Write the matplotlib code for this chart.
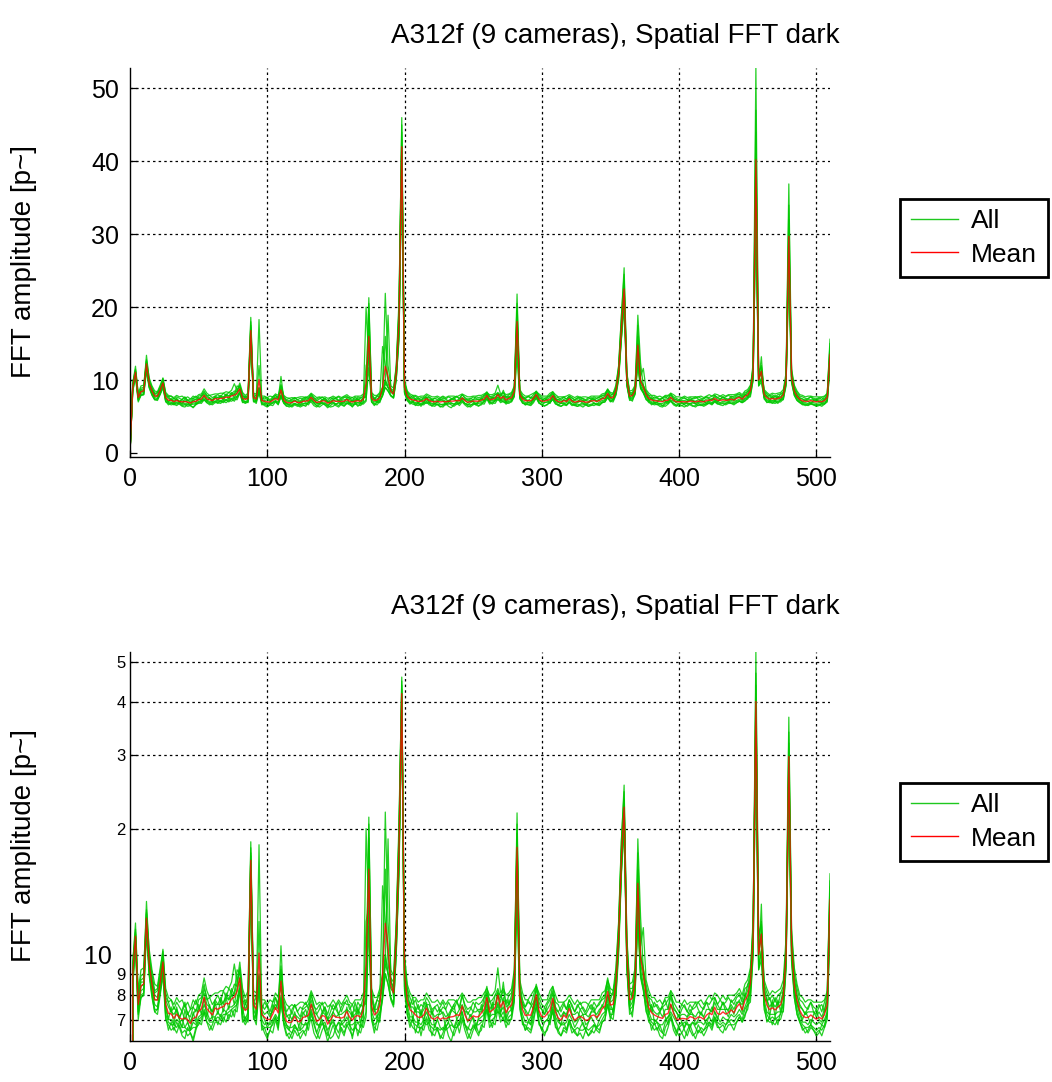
import numpy as np
import matplotlib
matplotlib.use('Agg')
import matplotlib.pyplot as plt
from matplotlib.lines import Line2D
from matplotlib.ticker import NullLocator

plt.rcParams['font.family'] = ['Liberation Sans', 'DejaVu Sans']

TITLE = 'A312f (9 cameras), Spatial FFT dark'
YLABEL = 'FFT amplitude [p~]'

# spatial frequency bins (every second bin of 0..511)
freq_bins = np.arange(0, 512, 2)

# FFT amplitude per camera
cam_1 = [
    0, 9.5, 11.9, 8.0, 8.9, 9.0, 13.4, 10.0, 9.0, 8.2, 8.3, 9.1, 10.3, 8.1, 7.7, 7.8,
    7.4, 7.7, 7.5, 7.3, 7.6, 7.2, 7.4, 7.5, 7.3, 7.8, 7.9, 8.5, 7.8, 7.9, 7.6, 7.8,
    8.0, 7.7, 8.2, 7.9, 8.3, 8.1, 8.5, 8.4, 9.3, 8.1, 7.6, 8.0, 18.6, 8.0, 7.9, 8.9,
    7.6, 7.4, 7.6, 7.3, 7.7, 7.9, 7.5, 9.2, 7.8, 7.3, 7.5, 7.2, 7.6, 7.3, 7.5, 7.4,
    7.5, 7.6, 8.1, 7.5, 7.4, 7.6, 7.3, 7.5, 7.2, 7.6, 7.4, 7.5, 7.7, 7.3, 7.6, 7.8,
    7.4, 7.6, 7.3, 7.7, 7.5, 7.9, 8.0, 21.3, 8.2, 7.5, 7.8, 8.1, 8.5, 10.0, 9.0, 8.8,
    8.6, 11.8, 20.0, 46.0, 9.8, 8.3, 7.9, 7.6, 7.8, 7.4, 7.6, 7.5, 7.9, 7.7, 7.4, 7.5,
    7.6, 7.3, 7.5, 7.4, 7.7, 7.5, 7.4, 7.7, 7.5, 8.0, 7.6, 7.4, 7.5, 7.3, 7.7, 7.6,
    7.7, 7.9, 8.4, 7.7, 7.8, 8.0, 8.3, 7.9, 8.2, 7.6, 8.0, 8.1, 9.0, 21.8, 8.5, 7.8,
    7.5, 7.7, 7.6, 8.0, 8.5, 7.9, 7.6, 7.5, 7.7, 7.9, 8.4, 7.7, 7.6, 7.3, 7.6, 7.4,
    7.8, 7.6, 7.3, 7.6, 7.4, 7.5, 7.3, 7.6, 7.4, 7.7, 7.5, 7.6, 7.9, 8.0, 8.8, 8.1,
    8.0, 9.0, 11.8, 18.5, 25.4, 10.8, 8.3, 8.3, 9.1, 16.0, 10.0, 9.3, 8.5, 7.9, 7.8, 7.5,
    7.6, 7.4, 7.5, 7.6, 7.8, 8.0, 7.7, 7.5, 7.3, 7.6, 7.5, 7.3, 7.6, 7.4, 7.5, 7.7,
    7.5, 7.4, 7.7, 7.6, 7.8, 7.9, 7.6, 7.8, 7.6, 7.7, 7.9, 7.7, 7.8, 8.0, 8.1, 7.8,
    8.3, 8.4, 9.1, 11.5, 52.9, 11.0, 12.0, 8.5, 8.1, 7.8, 8.0, 7.7, 8.0, 8.1, 8.4, 10.5,
    34.0, 11.2, 9.0, 8.3, 7.8, 7.7, 7.5, 7.4, 7.7, 7.5, 7.4, 7.6, 7.3, 7.7, 8.1, 15.0,
]
cam_2 = [
    0, 8.5, 10.4, 7.0, 7.9, 8.0, 11.2, 8.9, 7.9, 7.3, 7.2, 8.0, 8.9, 7.0, 6.8, 6.6,
    6.7, 6.5, 6.8, 6.5, 6.6, 6.4, 6.5, 6.3, 6.7, 6.8, 7.0, 7.3, 6.9, 6.8, 6.6, 6.9,
    6.9, 6.8, 7.1, 6.9, 7.2, 7.1, 7.4, 7.3, 8.2, 7.0, 6.8, 7.0, 15.6, 7.1, 6.8, 8.3,
    6.6, 6.7, 6.4, 6.6, 6.5, 7.0, 6.6, 7.9, 6.8, 6.4, 6.5, 6.3, 6.6, 6.4, 6.5, 6.6,
    6.4, 6.9, 7.0, 6.5, 6.3, 6.6, 6.9, 6.6, 6.2, 6.5, 6.8, 6.5, 6.3, 6.7, 6.5, 6.8,
    6.6, 6.4, 6.7, 6.6, 6.5, 6.9, 7.3, 11.7, 7.0, 6.7, 6.6, 7.1, 7.8, 9.0, 8.5, 7.8,
    7.5, 10.0, 16.0, 38.0, 8.2, 7.2, 6.9, 6.7, 6.6, 6.5, 6.7, 6.6, 7.0, 6.6, 6.5, 6.4,
    6.7, 6.3, 6.5, 6.8, 6.4, 6.2, 6.6, 6.9, 6.5, 7.0, 6.6, 6.3, 6.5, 6.8, 6.6, 6.4,
    6.8, 6.7, 7.4, 6.7, 6.9, 6.8, 7.4, 6.9, 7.1, 6.7, 7.0, 7.0, 7.7, 15.0, 7.4, 6.9,
    6.6, 6.7, 6.6, 7.1, 7.5, 6.8, 6.7, 6.5, 6.6, 7.0, 7.3, 6.7, 6.6, 6.4, 6.6, 6.5,
    6.9, 6.5, 6.6, 6.4, 6.5, 6.3, 6.6, 6.4, 6.6, 6.5, 6.7, 6.6, 6.9, 7.0, 7.6, 7.1,
    7.0, 7.9, 10.0, 15.5, 20.0, 9.2, 7.2, 7.3, 8.0, 12.5, 8.8, 8.2, 7.4, 6.9, 6.8, 6.6,
    6.7, 6.4, 6.3, 6.7, 6.9, 7.1, 6.6, 6.4, 6.7, 6.5, 6.3, 6.6, 6.8, 6.5, 6.3, 6.6,
    6.5, 6.6, 6.7, 6.8, 6.6, 7.0, 6.7, 6.7, 6.8, 6.6, 6.8, 6.8, 6.8, 6.9, 7.1, 6.9,
    7.2, 7.4, 8.0, 10.0, 33.0, 9.2, 10.2, 7.4, 7.0, 6.9, 6.9, 6.8, 7.0, 7.0, 7.4, 9.2,
    26.0, 9.6, 7.9, 7.2, 6.9, 6.6, 6.7, 6.5, 6.7, 6.6, 6.5, 6.6, 6.4, 6.7, 7.0, 12.0,
]
cam_3 = [
    0, 9.2, 11.2, 7.8, 8.6, 8.6, 12.5, 9.7, 8.7, 8.0, 7.9, 8.8, 9.8, 7.8, 7.5, 7.3,
    7.2, 7.4, 7.1, 7.3, 7.0, 7.3, 6.9, 7.2, 7.4, 7.3, 7.8, 8.1, 7.6, 7.5, 7.3, 7.6,
    7.6, 7.6, 7.7, 7.9, 7.8, 8.0, 8.1, 9.2, 9.0, 7.8, 7.4, 7.7, 17.5, 7.7, 7.6, 18.3,
    7.4, 7.2, 7.3, 7.1, 7.4, 7.6, 7.4, 10.5, 7.5, 7.1, 7.2, 7.0, 7.2, 7.1, 7.0, 7.3,
    7.1, 7.4, 7.8, 7.3, 7.2, 7.0, 7.3, 7.2, 7.0, 7.1, 7.3, 7.1, 7.2, 7.2, 7.3, 7.4,
    7.3, 7.1, 7.2, 7.4, 7.2, 7.5, 7.8, 17.0, 7.9, 7.4, 7.4, 7.8, 14.6, 12.0, 10.0, 8.6,
    8.3, 11.3, 19.0, 44.0, 9.3, 8.0, 7.5, 7.5, 7.3, 7.3, 7.2, 7.4, 7.6, 7.3, 7.3, 7.1,
    7.2, 7.2, 7.3, 7.1, 7.2, 7.4, 7.3, 7.2, 7.4, 7.6, 7.3, 7.3, 7.1, 7.3, 7.3, 7.4,
    7.4, 7.6, 8.2, 7.4, 7.6, 7.6, 8.1, 7.7, 8.6, 7.5, 7.6, 7.8, 8.6, 19.5, 8.2, 7.5,
    7.4, 7.2, 7.5, 7.7, 8.3, 7.5, 7.4, 7.2, 7.4, 7.6, 8.1, 7.4, 7.3, 7.1, 7.3, 7.2,
    7.6, 7.2, 7.2, 7.3, 7.1, 7.2, 7.2, 7.1, 7.3, 7.3, 7.2, 7.4, 7.5, 7.8, 8.4, 7.7,
    7.8, 8.7, 11.3, 17.5, 23.0, 10.3, 8.0, 8.1, 8.8, 18.9, 12.3, 9.2, 8.2, 7.6, 7.5, 7.3,
    7.2, 7.3, 7.1, 7.4, 7.4, 8.2, 7.4, 7.3, 7.1, 7.2, 7.2, 7.1, 7.2, 7.2, 7.1, 7.3,
    7.2, 7.1, 7.4, 7.4, 7.3, 7.7, 7.4, 7.4, 7.4, 7.4, 7.4, 7.6, 7.4, 7.7, 7.7, 7.6,
    7.9, 8.2, 8.8, 11.0, 44.0, 10.3, 11.2, 8.2, 7.8, 7.5, 7.7, 7.5, 7.7, 7.7, 8.2, 10.2,
    30.0, 10.7, 8.7, 8.0, 7.5, 7.4, 7.2, 7.3, 7.3, 7.3, 7.1, 7.3, 7.1, 7.4, 7.8, 14.0,
]
cam_4 = [
    0, 8.8, 10.8, 7.4, 8.2, 8.3, 11.8, 9.2, 8.2, 7.6, 7.5, 8.3, 9.3, 7.4, 7.0, 7.0,
    6.8, 7.0, 6.9, 7.0, 6.7, 6.9, 6.6, 6.9, 6.8, 7.1, 7.2, 7.6, 7.3, 7.0, 7.1, 7.1,
    7.3, 7.1, 7.4, 7.3, 7.5, 7.5, 7.6, 7.8, 8.5, 7.4, 7.0, 7.3, 16.0, 7.4, 7.1, 8.5,
    7.0, 6.8, 6.9, 6.8, 7.0, 7.2, 7.0, 8.0, 7.1, 6.8, 6.7, 6.7, 6.8, 6.6, 6.9, 6.8,
    6.8, 6.9, 7.4, 7.0, 6.8, 6.8, 6.8, 6.9, 6.6, 6.8, 6.9, 6.7, 6.9, 6.8, 6.9, 7.1,
    6.8, 6.8, 6.9, 6.9, 6.9, 7.2, 20.0, 12.5, 7.3, 7.0, 7.1, 7.3, 8.0, 9.5, 18.9, 8.9,
    7.9, 10.6, 17.0, 40.0, 8.7, 7.6, 7.1, 7.1, 6.9, 6.9, 6.8, 7.0, 7.3, 7.0, 6.8, 6.8,
    7.0, 6.7, 6.6, 6.9, 7.1, 6.9, 6.7, 7.0, 7.2, 7.3, 6.8, 6.6, 6.9, 7.1, 6.8, 7.0,
    7.1, 7.2, 7.7, 7.1, 7.2, 7.2, 7.7, 7.3, 7.5, 7.0, 7.3, 7.4, 8.1, 17.0, 7.8, 7.2,
    6.9, 6.9, 7.1, 7.3, 7.9, 7.2, 6.9, 6.9, 7.0, 7.2, 7.7, 7.1, 6.9, 6.8, 6.8, 6.9,
    7.2, 7.0, 6.7, 6.9, 7.1, 6.8, 6.6, 6.9, 7.1, 6.9, 6.7, 7.0, 7.2, 7.3, 8.0, 7.4,
    7.4, 8.2, 10.5, 16.3, 21.0, 9.6, 7.5, 7.7, 8.3, 14.0, 9.2, 8.5, 7.8, 7.3, 7.0, 7.0,
    6.9, 6.8, 6.8, 7.0, 7.1, 7.3, 7.1, 6.9, 6.7, 6.8, 6.9, 6.8, 6.8, 6.9, 6.8, 6.9,
    6.9, 6.8, 7.0, 7.1, 6.9, 7.3, 7.1, 6.9, 7.1, 7.0, 7.0, 7.2, 7.1, 7.2, 7.4, 7.2,
    7.5, 7.8, 8.3, 12.5, 37.0, 9.6, 13.2, 7.8, 7.3, 7.2, 7.2, 7.2, 7.3, 7.3, 7.7, 9.6,
    28.0, 10.1, 8.2, 7.6, 7.2, 6.9, 6.9, 6.8, 7.0, 6.9, 6.8, 6.9, 6.8, 7.0, 7.3, 13.0,
]
cam_5 = [
    0, 9.6, 11.5, 8.2, 9.2, 9.3, 12.8, 10.3, 9.2, 8.5, 8.4, 9.3, 10.2, 8.3, 7.9, 7.8,
    7.6, 7.9, 7.7, 7.8, 7.5, 7.7, 7.4, 7.8, 7.6, 8.0, 8.1, 8.8, 8.2, 7.9, 8.0, 8.1,
    8.1, 8.2, 8.2, 8.4, 8.3, 8.6, 9.5, 8.6, 9.6, 8.3, 7.9, 8.2, 18.0, 8.2, 8.1, 9.0,
    7.8, 7.8, 7.6, 7.8, 7.7, 8.1, 7.9, 9.4, 7.9, 7.6, 7.5, 7.6, 7.5, 7.6, 7.7, 7.7,
    7.6, 7.8, 8.2, 7.9, 7.6, 7.7, 7.6, 7.7, 7.5, 7.6, 7.8, 7.6, 7.8, 7.6, 7.8, 8.0,
    7.7, 7.6, 7.8, 7.8, 7.8, 8.1, 8.2, 20.5, 8.3, 7.9, 7.9, 8.3, 9.0, 21.9, 12.0, 9.2,
    8.9, 12.0, 21.0, 45.0, 10.0, 8.5, 8.1, 7.9, 7.9, 7.7, 7.8, 7.8, 8.1, 7.9, 7.7, 7.7,
    7.8, 7.6, 7.8, 7.6, 7.8, 7.8, 7.8, 7.7, 7.9, 8.1, 7.9, 7.7, 7.7, 7.8, 7.8, 7.9,
    7.9, 8.1, 8.3, 8.0, 8.0, 8.2, 9.3, 8.1, 8.3, 8.0, 8.1, 8.3, 9.2, 20.5, 8.7, 8.1,
    7.8, 7.8, 8.0, 8.2, 8.4, 8.1, 7.8, 7.8, 7.8, 8.2, 8.4, 8.0, 7.7, 7.7, 7.7, 7.8,
    8.0, 7.8, 7.6, 7.8, 7.6, 7.7, 7.7, 7.6, 7.8, 7.8, 7.8, 7.8, 8.1, 8.2, 8.7, 8.3,
    8.2, 9.3, 12.0, 18.8, 24.5, 11.0, 8.5, 8.6, 9.3, 17.5, 10.5, 11.6, 8.7, 8.2, 7.9, 7.9,
    7.7, 7.8, 7.6, 7.9, 7.9, 8.2, 8.0, 7.7, 7.7, 7.6, 7.8, 7.6, 7.7, 7.7, 7.7, 7.7,
    7.8, 7.6, 7.8, 8.0, 7.8, 8.1, 8.0, 7.8, 8.0, 7.8, 8.0, 8.0, 8.0, 8.1, 8.3, 8.0,
    8.5, 8.7, 9.3, 11.8, 47.0, 11.0, 11.8, 8.7, 8.3, 8.0, 8.2, 8.1, 8.2, 8.3, 8.7, 11.0,
    36.9, 11.5, 9.3, 8.5, 8.0, 7.9, 7.7, 7.8, 7.8, 7.7, 7.7, 7.7, 7.7, 7.8, 8.2, 15.6,
]
cam_6 = [
    0, 8.4, 10.6, 7.2, 8.0, 8.1, 11.5, 9.0, 8.1, 7.4, 7.4, 8.2, 9.1, 7.2, 6.9, 6.8,
    6.8, 6.7, 6.9, 6.7, 6.7, 6.6, 6.6, 6.7, 6.7, 7.0, 7.1, 7.4, 7.1, 6.9, 6.9, 7.0,
    7.1, 7.0, 7.2, 7.2, 7.3, 7.4, 7.5, 7.6, 8.3, 7.2, 6.9, 7.1, 15.8, 7.2, 7.0, 12.0,
    6.8, 6.7, 6.7, 6.7, 6.8, 7.1, 6.8, 7.8, 6.9, 6.7, 6.6, 6.5, 6.7, 6.6, 6.6, 6.7,
    6.9, 6.6, 7.2, 6.9, 6.5, 6.8, 7.0, 6.6, 6.4, 6.8, 7.0, 6.7, 6.5, 6.9, 6.7, 6.9,
    6.8, 6.6, 6.7, 6.9, 6.7, 7.0, 12.0, 13.0, 7.1, 6.8, 6.9, 7.2, 7.9, 9.0, 8.5, 7.9,
    7.6, 10.2, 16.5, 39.0, 8.4, 7.4, 7.0, 6.9, 6.8, 6.7, 6.7, 6.8, 7.1, 6.8, 6.7, 6.6,
    6.7, 6.6, 6.7, 6.6, 6.7, 6.8, 6.7, 6.7, 6.8, 7.1, 6.8, 6.7, 6.6, 6.7, 6.8, 6.8,
    6.9, 7.0, 7.6, 6.9, 7.0, 7.1, 7.6, 7.1, 7.3, 6.9, 7.1, 7.2, 7.8, 18.0, 7.6, 7.0,
    6.6, 6.9, 6.8, 7.3, 7.7, 6.9, 6.6, 6.9, 7.0, 6.8, 7.5, 7.0, 6.6, 6.8, 6.9, 6.6,
    7.0, 6.7, 6.6, 6.7, 6.6, 6.6, 6.7, 6.6, 6.7, 6.8, 6.7, 6.8, 7.0, 7.2, 7.8, 7.2,
    7.2, 8.0, 10.3, 15.8, 20.5, 9.4, 7.4, 7.5, 8.2, 11.8, 8.9, 8.3, 7.6, 7.1, 6.9, 6.8,
    6.9, 6.6, 6.5, 6.9, 7.1, 7.2, 6.8, 6.5, 6.8, 6.9, 6.6, 6.4, 6.7, 6.9, 6.7, 6.5,
    6.7, 6.6, 6.8, 6.9, 6.8, 7.1, 6.9, 6.8, 6.9, 6.8, 6.9, 7.0, 6.9, 7.1, 7.2, 7.0,
    7.4, 7.6, 8.2, 10.2, 33.0, 9.3, 10.3, 7.6, 7.2, 7.0, 7.1, 7.0, 7.1, 7.2, 7.6, 9.4,
    24.5, 9.7, 8.1, 7.4, 7.0, 6.8, 6.7, 6.7, 6.8, 6.7, 6.6, 6.7, 6.6, 6.8, 7.2, 11.5,
]
cam_7 = [
    0, 9.0, 11.0, 7.6, 8.4, 8.5, 12.2, 9.5, 8.5, 7.8, 7.8, 8.6, 9.6, 7.6, 7.0, 7.5,
    6.8, 7.5, 7.0, 6.7, 7.4, 6.9, 6.6, 7.3, 6.9, 7.6, 7.2, 7.9, 7.1, 7.6, 7.0, 7.7,
    7.2, 7.8, 7.3, 7.9, 7.4, 8.1, 7.6, 8.3, 8.8, 7.2, 7.7, 7.3, 16.5, 7.9, 7.1, 8.6,
    7.3, 7.0, 6.7, 6.9, 7.6, 7.4, 7.8, 8.4, 7.1, 6.8, 6.6, 7.0, 7.3, 6.9, 6.6, 7.2,
    7.4, 7.0, 7.6, 7.3, 6.9, 6.7, 7.2, 7.5, 7.0, 6.8, 7.3, 7.6, 7.2, 6.9, 7.0, 7.5,
    6.8, 7.3, 6.9, 7.5, 6.8, 7.7, 7.6, 15.0, 7.3, 7.5, 7.0, 7.8, 8.3, 9.5, 9.0, 8.3,
    8.1, 11.0, 18.0, 42.0, 9.0, 7.5, 7.7, 7.0, 7.5, 6.8, 7.4, 6.9, 7.7, 6.9, 7.4, 6.7,
    7.0, 7.4, 7.2, 6.7, 6.9, 7.4, 7.6, 7.0, 6.8, 7.5, 7.3, 6.9, 7.2, 7.0, 6.6, 7.1,
    7.6, 7.1, 8.0, 7.0, 7.7, 7.2, 8.2, 7.2, 7.9, 7.0, 7.8, 7.3, 8.4, 18.5, 7.7, 7.7,
    7.3, 7.0, 6.8, 7.6, 7.9, 7.2, 7.0, 7.5, 7.3, 6.9, 7.8, 7.4, 7.0, 6.8, 7.3, 7.1,
    7.6, 7.2, 6.9, 7.0, 7.4, 7.2, 6.8, 6.9, 7.3, 7.5, 7.0, 7.3, 7.6, 7.4, 8.0, 7.6,
    7.3, 8.5, 11.0, 17.0, 22.5, 10.0, 7.5, 8.2, 8.3, 14.5, 9.5, 8.8, 8.3, 7.2, 7.6, 6.9,
    7.0, 7.3, 7.5, 7.1, 6.8, 7.6, 7.3, 7.0, 7.2, 6.9, 6.7, 7.1, 7.4, 7.2, 6.8, 7.0,
    7.3, 7.1, 6.8, 7.2, 7.5, 7.3, 7.0, 7.4, 7.7, 7.3, 7.1, 7.5, 7.2, 7.6, 7.8, 7.3,
    8.1, 7.7, 8.9, 10.8, 39.0, 10.0, 11.0, 7.7, 7.9, 7.1, 7.8, 7.1, 7.8, 7.3, 8.3, 10.0,
    29.0, 10.5, 8.2, 7.7, 7.3, 7.0, 7.3, 7.1, 6.8, 7.2, 7.4, 7.0, 6.9, 7.3, 7.5, 13.5,
]
cam_8 = [
    0, 9.3, 11.3, 7.9, 8.7, 8.8, 12.6, 9.8, 8.8, 8.1, 8.2, 8.9, 10.0, 7.9, 7.7, 7.3,
    7.5, 7.3, 7.0, 7.4, 7.7, 7.2, 7.1, 7.5, 7.8, 7.4, 7.7, 8.3, 7.9, 7.5, 7.3, 7.8,
    7.6, 7.9, 7.6, 8.1, 7.8, 8.3, 8.0, 8.6, 9.2, 7.7, 7.8, 7.6, 17.2, 7.7, 7.9, 8.8,
    7.4, 7.7, 7.5, 7.2, 7.3, 7.9, 7.6, 8.9, 7.6, 7.2, 7.0, 7.4, 7.6, 7.3, 7.1, 7.5,
    7.7, 7.4, 8.0, 7.6, 7.2, 7.4, 7.7, 7.3, 7.0, 7.3, 7.6, 7.4, 7.2, 7.5, 7.7, 7.6,
    7.6, 7.1, 7.7, 7.2, 7.6, 7.5, 7.9, 19.0, 7.9, 7.3, 7.8, 7.7, 8.6, 16.0, 9.5, 8.6,
    8.4, 11.5, 19.5, 43.0, 9.5, 8.3, 7.5, 7.9, 7.3, 7.6, 7.1, 7.7, 7.6, 7.6, 7.2, 7.5,
    7.3, 7.5, 7.7, 7.4, 7.1, 7.3, 7.6, 7.8, 7.4, 8.0, 7.5, 7.2, 7.4, 7.7, 7.5, 7.3,
    7.3, 7.9, 8.1, 7.8, 7.4, 8.0, 8.1, 8.0, 7.7, 7.8, 7.6, 8.0, 8.8, 19.0, 8.4, 7.6,
    7.5, 7.8, 7.6, 7.4, 8.4, 7.7, 7.4, 7.2, 7.6, 7.8, 8.2, 7.5, 7.3, 7.5, 7.7, 7.4,
    7.8, 7.5, 7.3, 7.5, 7.7, 7.4, 7.2, 7.4, 7.6, 7.3, 7.5, 7.7, 7.8, 7.9, 8.6, 7.8,
    8.2, 8.8, 11.5, 17.8, 23.5, 10.5, 8.3, 7.9, 9.1, 15.0, 10.0, 9.2, 8.1, 7.9, 7.3, 7.7,
    7.5, 7.3, 7.6, 7.8, 7.4, 7.9, 7.5, 7.3, 7.1, 7.4, 7.6, 7.3, 7.2, 7.5, 7.7, 7.4,
    7.2, 7.5, 7.7, 7.4, 7.3, 7.9, 7.6, 7.4, 7.7, 7.5, 7.3, 7.8, 7.6, 7.9, 8.0, 7.7,
    7.9, 8.5, 8.6, 11.2, 41.0, 10.4, 11.4, 8.5, 7.7, 7.9, 7.5, 7.9, 7.5, 8.1, 8.1, 10.4,
    32.0, 11.0, 8.8, 8.0, 7.6, 7.4, 7.2, 7.5, 7.7, 7.3, 7.2, 7.5, 7.6, 7.3, 8.1, 14.5,
]
cam_9 = [
    0, 8.7, 10.9, 7.3, 7.9, 8.0, 12.0, 9.1, 8.0, 7.3, 7.4, 8.1, 9.2, 7.1, 6.6, 6.9,
    6.6, 6.9, 6.7, 6.4, 6.3, 6.7, 6.5, 6.2, 6.6, 6.9, 6.8, 7.3, 6.9, 6.6, 6.8, 7.1,
    6.8, 7.2, 6.9, 7.3, 7.0, 7.4, 7.1, 7.7, 8.3, 6.9, 7.1, 6.9, 16.0, 7.0, 7.2, 8.4,
    6.8, 6.5, 6.3, 6.6, 6.9, 7.1, 6.7, 7.7, 6.9, 6.5, 6.3, 6.5, 6.8, 6.6, 6.3, 6.5,
    6.6, 6.9, 7.3, 6.8, 6.5, 6.3, 6.6, 6.8, 6.5, 6.3, 6.4, 6.7, 6.9, 6.6, 6.4, 6.8,
    6.8, 6.3, 6.9, 6.4, 6.8, 6.7, 7.1, 14.0, 7.0, 6.5, 7.0, 6.9, 8.0, 10.0, 9.0, 7.9,
    7.6, 10.3, 15.5, 41.0, 8.3, 7.2, 6.7, 7.1, 6.5, 6.9, 6.4, 6.9, 6.8, 6.9, 6.4, 6.8,
    6.6, 6.4, 6.3, 6.7, 6.9, 6.6, 6.4, 6.7, 6.9, 7.3, 6.8, 6.5, 6.3, 6.6, 6.8, 6.5,
    6.6, 7.1, 7.4, 7.0, 6.7, 7.2, 7.3, 7.2, 7.0, 6.9, 6.8, 7.1, 8.0, 13.0, 7.6, 6.8,
    6.8, 6.6, 6.5, 6.9, 7.6, 6.9, 6.6, 6.4, 6.7, 6.9, 7.4, 6.8, 6.5, 6.4, 6.7, 6.6,
    7.0, 6.7, 6.5, 6.4, 6.7, 6.9, 6.6, 6.4, 6.5, 6.8, 6.6, 6.5, 6.9, 7.0, 7.6, 7.0,
    7.4, 8.1, 10.6, 15.8, 22.0, 9.3, 7.5, 7.1, 8.2, 13.0, 9.0, 8.3, 7.3, 7.1, 6.6, 6.9,
    6.6, 6.8, 6.5, 6.4, 6.7, 7.1, 6.8, 6.6, 6.4, 6.5, 6.7, 6.9, 6.6, 6.4, 6.5, 6.8,
    6.6, 6.4, 6.6, 6.9, 6.7, 7.1, 6.8, 6.6, 6.5, 6.8, 7.0, 6.8, 6.6, 6.9, 7.1, 6.9,
    7.1, 7.6, 7.7, 10.0, 35.0, 9.2, 9.7, 7.6, 6.9, 7.1, 6.8, 7.1, 6.8, 7.3, 7.3, 9.7,
    27.0, 10.2, 7.9, 7.2, 6.9, 6.7, 6.5, 6.6, 6.8, 6.6, 6.4, 6.5, 6.8, 6.7, 7.3, 12.5,
]
cameras = [cam_1, cam_2, cam_3, cam_4, cam_5, cam_6, cam_7, cam_8, cam_9]

x_ticks = [0, 100, 200, 300, 400, 500]
lin_yticks = [0, 10, 20, 30, 40, 50]
log_yticks = [7, 8, 9, 10, 20, 30, 40, 50]
log_yticklabels = ['7', '8', '9', '10  ', '2', '3', '4', '5']

GREEN = '#00c800'
RED = '#ff0000'


def plot_panel(ax, log=False):
    """一个面板：所有相机 + 平均值"""
    data = np.array(cameras)
    mean = data.mean(axis=0)
    for row in data:
        ax.plot(freq_bins, row, color=GREEN, lw=0.9, alpha=0.85, zorder=3)
    ax.plot(freq_bins, mean, color=RED, lw=1.0, alpha=0.8, zorder=4)

    ax.set_xlim(0, 510)
    ax.set_xticks(x_ticks)
    if log:
        ax.set_yscale('log', nonpositive='clip')
        ax.set_ylim(6.22, 52.8)
        ax.set_yticks(log_yticks)
        ax.set_yticklabels(log_yticklabels)
        ax.yaxis.set_minor_locator(NullLocator())
        yt = log_yticks
    else:
        ax.set_ylim(-0.55, 52.8)
        ax.set_yticks(lin_yticks)
        yt = lin_yticks[1:]

    # dotted grid
    for v in yt:
        ax.axhline(v, color='black', lw=0.9, ls=(0, (2, 2.5)), zorder=1)
    for v in x_ticks[1:]:
        ax.axvline(v, color='black', lw=0.9, ls=(0, (2, 2.5)), zorder=1)

    for s in ['top', 'right']:
        ax.spines[s].set_visible(False)
    for s in ['left', 'bottom']:
        ax.spines[s].set_linewidth(1.0)
        ax.spines[s].set_zorder(5)

    ax.tick_params(axis='both', direction='in', length=5, width=0.9,
                   labelsize=18, top=False, right=False)
    ax.tick_params(axis='x', pad=7)
    if log:
        ax.tick_params(axis='y', pad=3)
        for tick in ax.yaxis.get_major_ticks():
            if tick.label1.get_text().strip() != '10':
                tick.label1.set_fontsize(12)
    else:
        ax.tick_params(axis='y', pad=8)

    handles = [Line2D([], [], color='#1ec81e', lw=1.0),
               Line2D([], [], color=RED, lw=1.0)]
    return handles


fig = plt.figure(figsize=(10.52, 10.82), dpi=100)
ax1 = fig.add_axes([130 / 1052, 1 - 457 / 1082, 700 / 1052, 389 / 1082])
ax2 = fig.add_axes([130 / 1052, 1 - 1041 / 1082, 700 / 1052, 389 / 1082])

for ax, log, ty, ly, gy in [(ax1, False, 36, 262, 238), (ax2, True, 607, 846, 822)]:
    handles = plot_panel(ax, log)
    fig.text(615 / 1052, 1 - ty / 1082, TITLE, ha='center', va='center', fontsize=20)
    fig.text(24 / 1052, 1 - ly / 1082, YLABEL, rotation=90, ha='center', va='center',
             fontsize=20)
    leg = ax.legend(handles, ['All', 'Mean'], loc='center',
                    bbox_to_anchor=(974 / 1052, 1 - gy / 1082),
                    bbox_transform=fig.transFigure, fontsize=19, frameon=True,
                    fancybox=False, edgecolor='black', framealpha=1,
                    handlelength=1.8, handletextpad=0.5, borderpad=0.4,
                    labelspacing=0.35, borderaxespad=0)
    leg.get_frame().set_linewidth(2.0)

fig.savefig('out.png', dpi=100)
